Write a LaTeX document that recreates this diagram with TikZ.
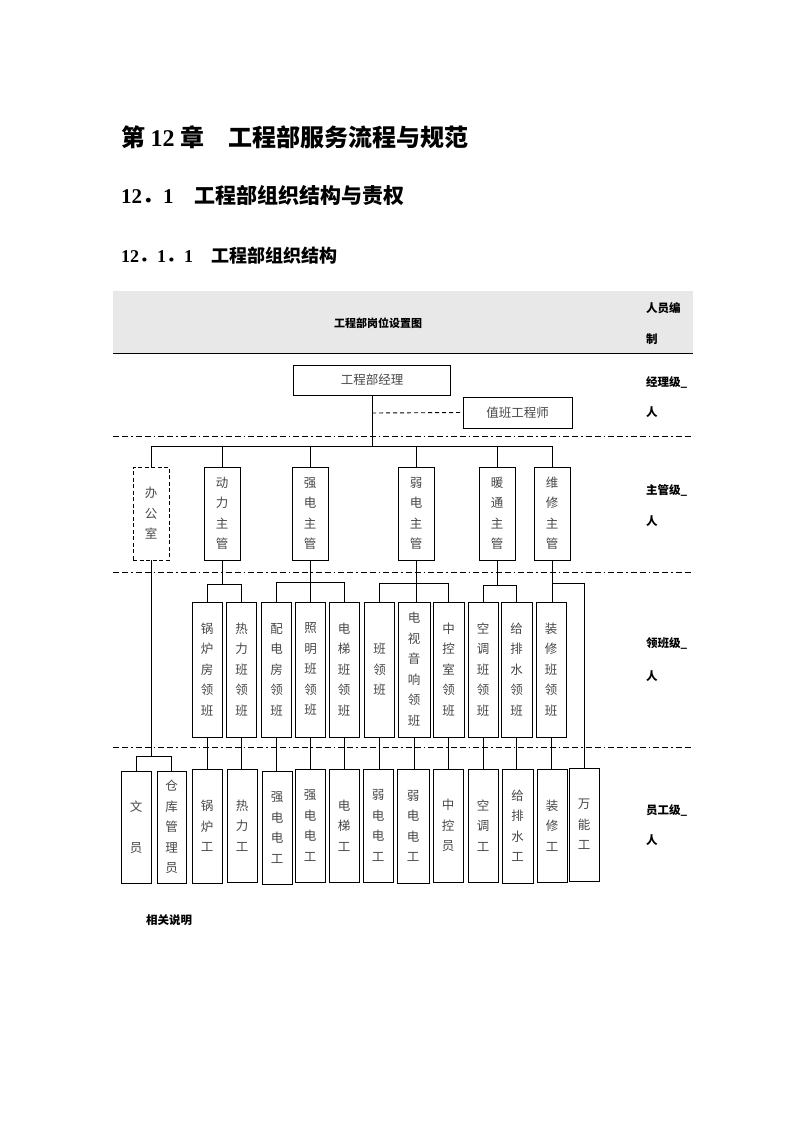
\documentclass[tikz,border=0pt]{standalone}
\usepackage{fontspec}
\newfontfamily\cjk{Noto Sans CJK SC}
\newfontfamily\tnr{Liberation Serif}
\begin{document}
\begin{tikzpicture}[x=1pt,y=-1pt,
  bx/.style={draw, line width=0.9pt, inner sep=0pt, align=center, text=black!72,
    font=\cjk\fontsize{12.5}{20.5}\selectfont},
  hbx/.style={bx, font=\cjk\fontsize{12.5}{15}\selectfont},
  lvl/.style={anchor=west, inner sep=0pt, font=\cjk\bfseries\fontsize{11.5}{14}\selectfont},
  ln/.style={line width=0.9pt},
  lvline/.style={line width=0.8pt, dash pattern=on 6pt off 3pt on 6pt off 3pt on 1.5pt off 3pt},
  l2/.style={bx, minimum width=36, minimum height=93},
  l3/.style={bx, minimum width=30, minimum height=135},
  l4/.style={bx, minimum width=30, minimum height=113}]
\useasboundingbox (0,0) rectangle (793,1122);

% headings
\node[anchor=base west, inner sep=0pt, font=\cjk\bfseries\fontsize{24}{28}\selectfont] (h1) at (121,146)
  {第 {\tnr\bfseries 12} 章　工程部服务流程与规范};
\node[anchor=base west, inner sep=0pt, font=\cjk\bfseries\fontsize{21}{25}\selectfont] (h2) at (121,203)
  {{\tnr\bfseries 12}．{\tnr\bfseries 1}　工程部组织结构与责权};
\node[anchor=base west, inner sep=0pt, font=\cjk\bfseries\fontsize{18}{22}\selectfont] (h3) at (121,262)
  {{\tnr\bfseries 12}．{\tnr\bfseries 1}．{\tnr\bfseries 1}　工程部组织结构};

% header band
\fill[black!9] (113,291) rectangle (693,353);
\draw[line width=1pt] (113,353) -- (693,353);
\node[inner sep=0pt, font=\cjk\bfseries\fontsize{11}{14}\selectfont] (title) at (378,323) {工程部岗位设置图};
\node[lvl] (ry1) at (646,308) {人员编};
\node[lvl] (ry2) at (646,339) {制};

% level lines
\draw[lvline] (113,436) -- (693,436);
\draw[lvline] (113,572) -- (693,572);
\draw[lvline] (113,747) -- (693,747);

% level labels
\node[lvl] (la1) at (646,382) {经理级\_};
\node[lvl] (lb1) at (646,412) {人};
\node[lvl] (la2) at (646,490) {主管级\_};
\node[lvl] (lb2) at (646,521) {人};
\node[lvl] (la3) at (646,643) {领班级\_};
\node[lvl] (lb3) at (646,676) {人};
\node[lvl] (la4) at (646,810) {员工级\_};
\node[lvl] (lb4) at (646,840) {人};
\node[lvl] (note) at (146,920) {相关说明};

% level 1
\node[hbx, minimum width=157, minimum height=30] (mgr) at (372,380) {工程部经理};
\node[hbx, minimum width=109, minimum height=31] (duty) at (517.5,412.5) {值班工程师};

% level 2
\node[l2, dash pattern=on 4pt off 2.5pt] (office) at (151,513.5) {办\\公\\室};
\node[l2] (dl) at (222,513.5) {动\\力\\主\\管};
\node[l2] (qd) at (310,513.5) {强\\电\\主\\管};
\node[l2] (rd) at (416,513.5) {弱\\电\\主\\管};
\node[l2] (nt) at (497,513.5) {暖\\通\\主\\管};
\node[l2] (wx) at (552,513.5) {维\\修\\主\\管};

% level 3
\node[l3] (gl)  at (207,669.5)   {锅\\炉\\房\\领\\班};
\node[l3] (rl)  at (241.5,669.5) {热\\力\\班\\领\\班};
\node[l3] (pd)  at (276.5,669.5) {配\\电\\房\\领\\班};
\node[l3] (zm)  at (310.5,669.5) {照\\明\\班\\领\\班};
\node[l3] (dt)  at (344,669.5)   {电\\梯\\班\\领\\班};
\node[l3] (bl)  at (379.5,669.5) {班\\领\\班};
\node[l3, minimum width=32] (ds) at (414,669.5) {电\\视\\音\\响\\领\\班};
\node[l3, minimum width=31] (zk) at (448.5,669.5) {中\\控\\室\\领\\班};
\node[l3] (kt)  at (483,669.5)   {空\\调\\班\\领\\班};
\node[l3, minimum width=31] (gps) at (516.5,669.5) {给\\排\\水\\领\\班};
\node[l3] (zx)  at (551,669.5)   {装\\修\\班\\领\\班};

% level 4
\node[l4, minimum height=112] (wy)  at (136,827)   {文\\[20.5pt]员};
\node[l4, minimum width=29, minimum height=112] (ck) at (171.5,827) {仓\\库\\管\\理\\员};
\node[l4, minimum height=114] (glg) at (207,826)   {锅\\炉\\工};
\node[l4] (rlg) at (242,825.5)  {热\\力\\工};
\node[l4] (qd1) at (277,827.5)  {强\\电\\电\\工};
\node[l4] (qd2) at (310,825.5)  {强\\电\\电\\工};
\node[l4] (dtg) at (344,825.5)  {电\\梯\\工};
\node[l4] (rd1) at (378,825.5)  {弱\\电\\电\\工};
\node[l4, minimum width=32, minimum height=114] (rd2) at (413,826) {弱\\电\\电\\工};
\node[l4] (zky) at (448,825.5)  {中\\控\\员};
\node[l4] (ktg) at (483,825.5)  {空\\调\\工};
\node[l4, minimum width=31, minimum height=114] (gpsg) at (517.5,826) {给\\排\\水\\工};
\node[l4] (zxg) at (552,825.5)  {装\\修\\工};
\node[l4] (wn)  at (584,824.5)  {万\\能\\工};

% bus coordinates
\coordinate (b0) at (0,446);
\coordinate (b1) at (0,584);
\coordinate (b2) at (0,582);
\coordinate (b3) at (0,583);
\coordinate (b4) at (0,585);
\coordinate (b5) at (0,583);
\coordinate (b6) at (0,756);
\coordinate (dy) at (0,413);

% level 1 -> 2
\draw[ln] (mgr.south) -- (mgr.south |- b0);
\draw[ln, dash pattern=on 4pt off 3pt] (mgr.south |- dy) -- (duty.west);
\draw[ln] (office.north) -- (office.north |- b0) -- (wx.north |- b0) -- (wx.north);
\draw[ln] (dl.north) -- (dl.north |- b0);
\draw[ln] (qd.north) -- (qd.north |- b0);
\draw[ln] (rd.north) -- (rd.north |- b0);
\draw[ln] (nt.north) -- (nt.north |- b0);

% level 2 -> 3
\draw[ln] (dl.south) -- (dl.south |- b1);
\draw[ln] (gl.north) -- (gl.north |- b1) -- (rl.north |- b1) -- (rl.north);
\draw[ln] (qd.south) -- (qd.south |- zm.north);
\draw[ln] (pd.north) -- (pd.north |- b2) -- (dt.north |- b2) -- (dt.north);
\draw[ln] (rd.south) -- (rd.south |- ds.north);
\draw[ln] (bl.north) -- (bl.north |- b3) -- (zk.north |- b3) -- (zk.north);
\draw[ln] (nt.south) -- (nt.south |- b4);
\draw[ln] (kt.north) -- (kt.north |- b4) -- (gps.north |- b4) -- (gps.north);
\draw[ln] (wx.south) -- (wx.south |- zx.north);
\draw[ln] (wx.south |- b5) -- (wn.north |- b5) -- (wn.north);

% office -> staff
\draw[ln] (office.south) -- (office.south |- b6);
\draw[ln] (wy.north) -- (wy.north |- b6) -- (ck.north |- b6) -- (ck.north);

% level 3 -> 4
\draw[ln] (gl.south) -- (gl.south |- glg.north);
\draw[ln] (rl.south) -- (rl.south |- rlg.north);
\draw[ln] (pd.south) -- (pd.south |- qd1.north);
\draw[ln] (zm.south) -- (zm.south |- qd2.north);
\draw[ln] (dt.south) -- (dt.south |- dtg.north);
\draw[ln] (bl.south) -- (bl.south |- rd1.north);
\draw[ln] (ds.south) -- (ds.south |- rd2.north);
\draw[ln] (zk.south) -- (zk.south |- zky.north);
\draw[ln] (kt.south) -- (kt.south |- ktg.north);
\draw[ln] (gps.south) -- (gps.south |- gpsg.north);
\draw[ln] (zx.south) -- (zx.south |- zxg.north);
\end{tikzpicture}
\end{document}
